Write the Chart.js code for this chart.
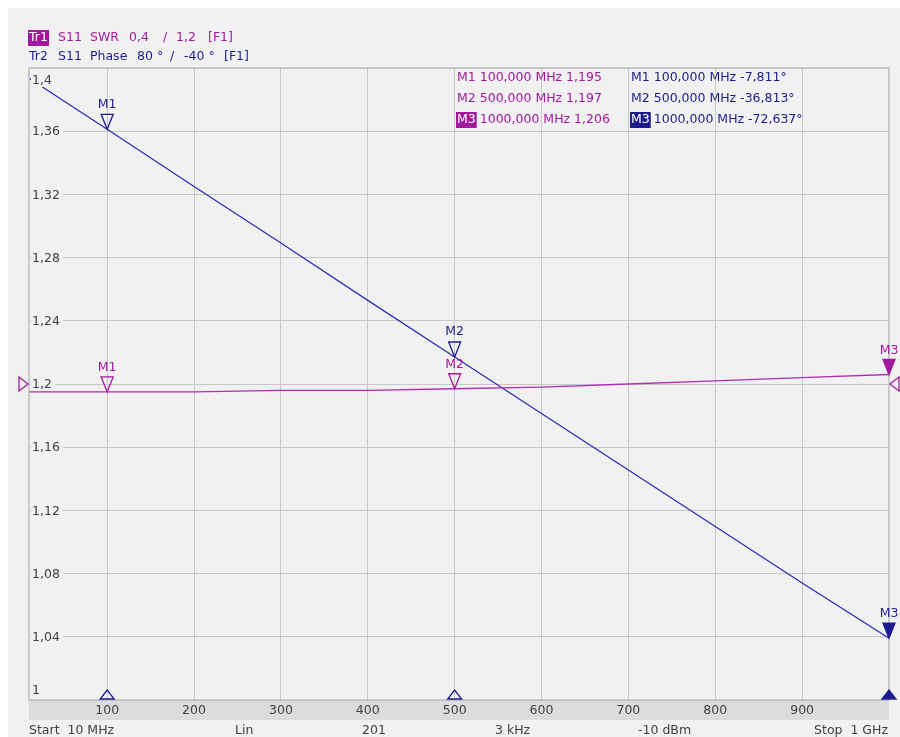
<!DOCTYPE html>
<html>
<head>
<meta charset="utf-8">
<script src="https://cdn.jsdelivr.net/npm/chart.js@4.4.1/dist/chart.umd.min.js"></script>
<style>
  html, body { margin: 0; padding: 0; background: #ffffff; }
  canvas { display: block; }
</style>
</head>
<body>
<canvas id="c" width="900" height="737"></canvas>
<script>
// ---- data ----
const freqs      = [10, 100, 200, 300, 400, 500, 600, 700, 800, 900, 1000];           // MHz
const swrValues  = [1.195, 1.195, 1.195, 1.196, 1.196, 1.197, 1.198, 1.200, 1.202, 1.204, 1.206];
const phaseValues= [-1.3, -7.811, -15.1, -22.3, -29.6, -36.813, -44.0, -51.2, -58.4, -65.6, -72.637];
const xTickValues= [100, 200, 300, 400, 500, 600, 700, 800, 900];
const markerNames = ['M1', 'M2', 'M3'];
const markerFreqs = [100, 500, 1000];
const swrMarkers  = [1.195, 1.197, 1.206];
const phaseMarkers= [-7.811, -36.813, -72.637];
const swrRef = 1.2;
const bottomTexts = ['Start  10 MHz', 'Lin', '201', '3 kHz', '-10 dBm', 'Stop  1 GHz'];

const MAG = '#a3189f', MAG_LINE = '#b22db4';
const BLU = '#1c1c8e', BLU_LINE = '#2f2fb4';
const TXT = '#404040';
const FONT = '12.5px "DejaVu Sans", Verdana, sans-serif';

const comma = (s) => s.replace('.', ',');

function triDown(ctx, x, tipY, w, h, color, filled) {
  ctx.beginPath();
  ctx.moveTo(x, tipY);
  ctx.lineTo(x - w / 2, tipY - h);
  ctx.lineTo(x + w / 2, tipY - h);
  ctx.closePath();
  ctx.lineWidth = 1.3;
  ctx.strokeStyle = color;
  if (filled) { ctx.fillStyle = color; ctx.fill(); }
  ctx.stroke();
}

const vnaPlugin = {
  id: 'vna',
  beforeDraw(chart) {
    const ctx = chart.ctx, a = chart.chartArea;
    ctx.save();
    ctx.fillStyle = '#ffffff';
    ctx.fillRect(0, 0, chart.width, chart.height);
    ctx.fillStyle = '#f1f1f1';
    ctx.fillRect(8, 8, chart.width - 8, chart.height - 8);
    // stimulus band
    ctx.fillStyle = '#dcdcdc';
    ctx.fillRect(a.left, a.bottom, a.right - a.left, 20);
    ctx.restore();
  },
  afterDatasetsDraw(chart) {
    const ctx = chart.ctx, a = chart.chartArea;
    const xs = chart.scales.x, ys = chart.scales.y, y2 = chart.scales.y2;
    ctx.save();
    ctx.font = FONT;
    // frame
    ctx.strokeStyle = '#bdbdbd';
    ctx.lineWidth = 1.5;
    ctx.strokeRect(a.left, a.top, a.right - a.left, a.bottom - a.top);

    // y labels inside plot
    ctx.textBaseline = 'middle';
    ctx.textAlign = 'left';
    ys.ticks.forEach((t, i) => {
      const txt = comma(String(parseFloat(t.value.toFixed(2))));
      let y = ys.getPixelForValue(t.value);
      if (i === 0) y -= 10;
      else if (i === ys.ticks.length - 1) y += 12;
      const w = ctx.measureText(txt).width;
      ctx.fillStyle = '#f1f1f1';
      ctx.fillRect(a.left + 2, y - 7, w + 4, 14);
      ctx.fillStyle = TXT;
      ctx.fillText(txt, a.left + 3, y + 1);
    });

    // trace markers
    ctx.textAlign = 'center';
    markerFreqs.forEach((f, i) => {
      const x = xs.getPixelForValue(f);
      const active = i === markerFreqs.length - 1;
      // Tr1 (SWR)
      let tip = ys.getPixelForValue(swrMarkers[i]);
      triDown(ctx, x, tip, 12, 15, MAG, active);
      ctx.fillStyle = MAG;
      ctx.fillText(markerNames[i], x, tip - 24);
      // Tr2 (phase)
      tip = y2.getPixelForValue(phaseMarkers[i]);
      triDown(ctx, x, tip, 12, 15, BLU, active);
      ctx.fillStyle = BLU;
      ctx.fillText(markerNames[i], x, tip - 25);
      // stimulus triangle at bottom
      ctx.beginPath();
      ctx.moveTo(x, a.bottom - 10);
      ctx.lineTo(x - 7, a.bottom - 1);
      ctx.lineTo(x + 7, a.bottom - 1);
      ctx.closePath();
      ctx.strokeStyle = BLU; ctx.lineWidth = 1.3;
      if (active) { ctx.fillStyle = BLU; ctx.fill(); }
      ctx.stroke();
    });

    // reference position triangles
    const ry = ys.getPixelForValue(swrRef);
    ctx.strokeStyle = MAG; ctx.lineWidth = 1.3;
    ctx.beginPath();
    ctx.moveTo(a.left - 1, ry);
    ctx.lineTo(a.left - 10, ry - 7);
    ctx.lineTo(a.left - 10, ry + 7);
    ctx.closePath(); ctx.stroke();
    ctx.beginPath();
    ctx.moveTo(a.right + 1, ry);
    ctx.lineTo(a.right + 10, ry - 7);
    ctx.lineTo(a.right + 10, ry + 7);
    ctx.closePath(); ctx.stroke();

    // marker readouts
    ctx.textAlign = 'left';
    const rowY = [78, 99, 120];
    markerFreqs.forEach((f, i) => {
      const active = i === markerFreqs.length - 1;
      const fTxt = comma(f.toFixed(3)) + ' MHz ';
      const sTxt = fTxt + comma(swrMarkers[i].toFixed(3));
      const pTxt = fTxt + comma(phaseMarkers[i].toFixed(3)) + '°';
      [[457, MAG, sTxt], [631, BLU, pTxt]].forEach(([x0, col, txt]) => {
        const mw = ctx.measureText(markerNames[i]).width;
        if (active) {
          ctx.fillStyle = col;
          ctx.fillRect(x0 - 1, rowY[i] - 8, mw + 2, 16);
          ctx.fillStyle = '#ffffff';
        } else ctx.fillStyle = col;
        ctx.fillText(markerNames[i], x0, rowY[i]);
        ctx.fillStyle = col;
        ctx.fillText(txt, x0 + mw + 4, rowY[i]);
      });
    });

    // header
    ctx.fillStyle = MAG;
    ctx.fillRect(28, 30, 21, 16);
    ctx.fillStyle = '#ffffff';
    ctx.fillText('Tr1', 29, 38);
    ctx.fillStyle = MAG;
    [['S11', 58], ['SWR', 90], ['0,4', 129], ['/', 163], ['1,2', 176], ['[F1]', 208]]
      .forEach(([t, x]) => ctx.fillText(t, x, 38));
    ctx.fillStyle = BLU;
    [['Tr2', 29], ['S11', 58], ['Phase', 90], ['80 °', 137], ['/', 170], ['-40 °', 184], ['[F1]', 224]]
      .forEach(([t, x]) => ctx.fillText(t, x, 57));

    // bottom stimulus line
    ctx.fillStyle = TXT;
    const bx = [29, 235, 362, 495, 638, 888];
    bottomTexts.forEach((t, i) => {
      ctx.textAlign = i === bottomTexts.length - 1 ? 'right' : 'left';
      ctx.fillText(t, bx[i], 731);
    });
    ctx.restore();
  }
};

const chart = new Chart(document.getElementById('c'), {
  type: 'line',
  data: {
    labels: freqs,
    datasets: [
      {
        label: 'Tr1 S11 SWR',
        data: freqs.map((f, i) => ({ x: f, y: swrValues[i] })),
        borderColor: MAG_LINE, borderWidth: 1.3, pointRadius: 0, tension: 0,
        yAxisID: 'y'
      },
      {
        label: 'Tr2 S11 Phase',
        data: freqs.map((f, i) => ({ x: f, y: phaseValues[i] })),
        borderColor: BLU_LINE, borderWidth: 1.3, pointRadius: 0, tension: 0,
        yAxisID: 'y2'
      }
    ]
  },
  options: {
    responsive: false,
    animation: false,
    events: [],
    layout: { padding: { left: 29, right: 11, top: 68, bottom: 0 } },
    plugins: { legend: { display: false }, tooltip: { enabled: false } },
    scales: {
      x: {
        type: 'linear', min: 10, max: 1000,
        afterBuildTicks: (s) => { s.ticks = xTickValues.map(v => ({ value: v })); },
        afterFit: (s) => { s.height = 37; },
        grid: { color: '#c8c8c8', lineWidth: 1, drawTicks: false },
        border: { display: false },
        ticks: {
          padding: 3, color: TXT, autoSkip: false, maxRotation: 0,
          font: { family: '"DejaVu Sans", Verdana, sans-serif', size: 12.5 },
          callback: (v) => String(v)
        }
      },
      y: {
        type: 'linear', min: 1, max: 1.4, position: 'left',
        afterFit: (s) => { s.width = 0; },
        ticks: { display: false, stepSize: 0.04 },
        grid: { color: '#c8c8c8', lineWidth: 1, drawTicks: false },
        border: { display: false }
      },
      y2: {
        type: 'linear', min: -80.5, max: 0, display: false
      }
    }
  },
  plugins: [vnaPlugin]
});
</script>
</body>
</html>
